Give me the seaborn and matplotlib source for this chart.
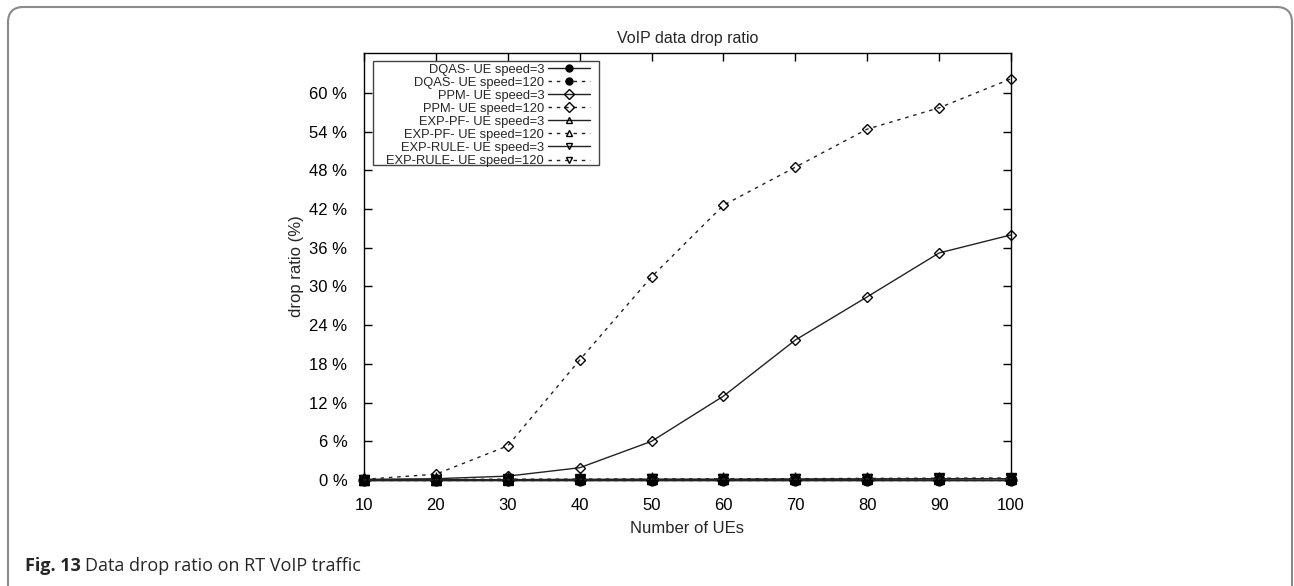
import numpy as np
import pandas as pd
import matplotlib
matplotlib.use("Agg")
import matplotlib.pyplot as plt
import seaborn as sns
from matplotlib.patches import FancyBboxPatch, Rectangle
from matplotlib.ticker import FuncFormatter

# ---- data ----
num_ues = [10, 20, 30, 40, 50, 60, 70, 80, 90, 100]
dqas_3 = [0.0, 0.0, 0.0, 0.0, 0.0, 0.0, 0.0, 0.0, 0.0, 0.0]
dqas_120 = [0.0, 0.0, 0.0, 0.0, 0.0, 0.0, 0.0, 0.0, 0.0, 0.0]
ppm_3 = [0.1, 0.2, 0.6, 1.9, 6.0, 13.0, 21.7, 28.4, 35.2, 38.0]
ppm_120 = [0.1, 0.9, 5.3, 18.6, 31.5, 42.6, 48.5, 54.4, 57.7, 62.2]
exppf_3 = [0.0, 0.05, 0.05, 0.1, 0.1, 0.1, 0.15, 0.15, 0.2, 0.2]
exppf_120 = [0.0, 0.05, 0.1, 0.1, 0.15, 0.15, 0.2, 0.25, 0.25, 0.3]
exprule_3 = [0.0, 0.05, 0.05, 0.05, 0.1, 0.1, 0.1, 0.15, 0.15, 0.2]
exprule_120 = [0.0, 0.05, 0.1, 0.1, 0.1, 0.15, 0.15, 0.2, 0.25, 0.25]
yticks = [0, 6, 12, 18, 24, 30, 36, 42, 48, 54, 60]

series = [
    ("DQAS- UE speed=3", dqas_3, "o", "solid", "black"),
    ("DQAS- UE speed=120", dqas_120, "o", "dashed", "black"),
    ("PPM- UE speed=3", ppm_3, "D", "solid", "none"),
    ("PPM- UE speed=120", ppm_120, "D", "dashed", "none"),
    ("EXP-PF- UE speed=3", exppf_3, "^", "solid", "none"),
    ("EXP-PF- UE speed=120", exppf_120, "^", "dashed", "none"),
    ("EXP-RULE- UE speed=3", exprule_3, "v", "solid", "none"),
    ("EXP-RULE- UE speed=120", exprule_120, "v", "dashed", "none"),
]

sns.set_theme(style="ticks")
plt.rcParams["font.family"] = ["Liberation Sans", "DejaVu Sans"]

fig = plt.figure(figsize=(12.94, 5.86), dpi=100)
ax = fig.add_axes([364 / 1294, 1 - 480 / 586, 647 / 1294, 427 / 586])

dash = (0, (2.5, 3.5))
for label, vals, marker, ls, fc in series:
    df = pd.DataFrame({"x": num_ues, "y": vals})
    if marker == "o":
        ms = 7.5
    elif marker == "D":
        ms = 5
    else:
        ms = 6.5
    sns.lineplot(data=df, x="x", y="y", ax=ax, label=label,
                 color="#222222", linewidth=1.0,
                 linestyle="-" if ls == "solid" else dash,
                 marker=marker, markersize=ms,
                 markerfacecolor=fc,
                 markeredgecolor="black", markeredgewidth=1.0,
                 clip_on=False, zorder=3)

ax.set_xlim(10, 100)
ax.set_ylim(0, 66.2)
ax.set_xticks(num_ues)
ax.set_yticks(yticks)
ax.yaxis.set_major_formatter(FuncFormatter(lambda v, p: f"{v:g} %"))
ax.tick_params(direction="in", length=6, width=1, top=True, right=True,
               labelsize=12, colors="black", pad=13)
ax.tick_params(axis="y", pad=12)
for s in ax.spines.values():
    s.set_color("black")
    s.set_linewidth(1.0)

ax.set_title("VoIP data drop ratio", fontsize=11.5, pad=7)
ax.set_xlabel("Number of UEs", fontsize=12, labelpad=6)
ax.set_ylabel("drop ratio (%)", fontsize=12, labelpad=4)

# legend box (drawn separately so the inner padding matches the original)
box = Rectangle((9 / 647, 1 - 112 / 427), 226 / 647, 104 / 427,
                transform=ax.transAxes, facecolor="white", edgecolor="#444444",
                linewidth=1.0, zorder=4)
ax.add_patch(box)
leg = ax.legend(loc="upper right", bbox_to_anchor=(226 / 647, 1 - 10.5 / 427),
                borderaxespad=0, markerfirst=False, fontsize=9.3,
                handlelength=3.25, labelspacing=0.08, handletextpad=0.3,
                borderpad=0.0, frameon=False)
leg.set_zorder(5)
for h in leg.legend_handles:
    h.set_markersize(5)

# figure frame and caption
frame = FancyBboxPatch((8 / 1294, -0.1), (1292 - 8) / 1294, (0.1 + 1 - 7 / 586),
                       boxstyle="round,pad=0,rounding_size=0.012",
                       transform=fig.transFigure, fill=False,
                       edgecolor="#8a8a8a", linewidth=1.5, clip_on=False,
                       mutation_aspect=1294 / 586)
fig.patches.append(frame)

fig.text(25 / 1294, 1 - 566 / 586, "Fig. 13", fontsize=13, fontweight="bold",
         family=["Open Sans", "DejaVu Sans"], va="center", ha="left")
fig.text(85 / 1294, 1 - 566 / 586, "Data drop ratio on RT VoIP traffic",
         fontsize=13, family=["Open Sans", "DejaVu Sans"], va="center", ha="left")

fig.savefig("out.png", dpi=100)
